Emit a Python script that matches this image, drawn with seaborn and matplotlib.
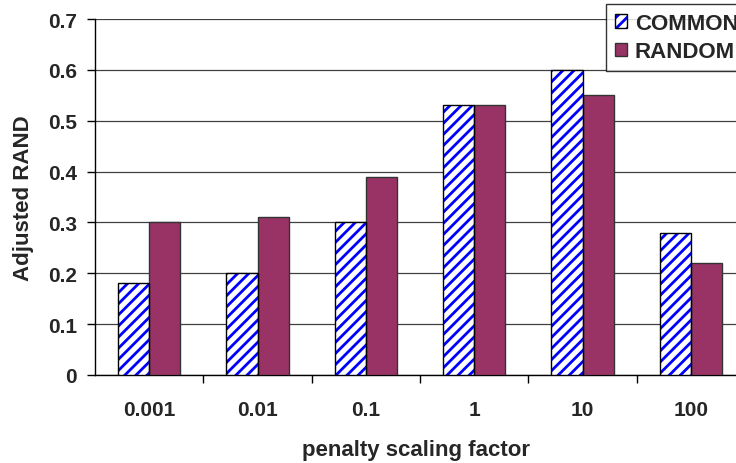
import matplotlib
matplotlib.use("Agg")
import matplotlib.pyplot as plt
from matplotlib.patches import Rectangle, Patch
from matplotlib.legend_handler import HandlerTuple
import seaborn as sns
import pandas as pd

categories = ["0.001", "0.01", "0.1", "1", "10", "100"]
common = [0.18, 0.20, 0.30, 0.53, 0.60, 0.28]
random_vals = [0.30, 0.31, 0.39, 0.53, 0.55, 0.22]
series = ["COMMON", "RANDOM"]
yticks = [0, 0.1, 0.2, 0.3, 0.4, 0.5, 0.6, 0.7]
ytick_labels = ["0", "0.1", "0.2", "0.3", "0.4", "0.5", "0.6", "0.7"]

df = pd.DataFrame({
    "factor": categories * 2,
    "value": common + random_vals,
    "series": [series[0]] * len(categories) + [series[1]] * len(categories),
})

sns.set_theme(style="white")
plt.rcParams["font.family"] = ["Liberation Sans", "DejaVu Sans"]
plt.rcParams["font.weight"] = "bold"
plt.rcParams["hatch.linewidth"] = 2.0

W, H = 736, 464
fig = plt.figure(figsize=(W / 100, H / 100), dpi=100)
ax = fig.add_axes([95 / W, (H - 376) / H, 650 / W, 356 / H])

plum = "#993366"
sns.barplot(data=df, x="factor", y="value", hue="series", order=categories,
            hue_order=series, palette=["white", plum], width=0.574,
            dodge=True, ax=ax, legend=False, saturation=1, zorder=3)

# hatched bars: blue stripes with a black outline
for p in ax.containers[0]:
    p.set_hatch("///")
    p.set_edgecolor("#0000ff")
    p.set_linewidth(0)
    ax.add_patch(Rectangle(p.get_xy(), p.get_width(), p.get_height(),
                           fill=False, edgecolor="black", linewidth=1.0, zorder=4))
for p in ax.containers[1]:
    p.set_edgecolor("#333333")
    p.set_linewidth(1.0)

ax.set_ylim(0, 0.7)
ax.set_xlim(-0.5, len(categories) - 0.5)
ax.set_yticks(yticks)
ax.set_yticklabels(ytick_labels, fontsize=15, fontweight="bold")
ax.yaxis.grid(True, color="#404040", linewidth=0.9, zorder=0)
ax.set_axisbelow(True)

ax.set_xticks(range(len(categories)))
ax.set_xticklabels(categories, fontsize=15, fontweight="bold")
ax.set_xticks([i + 0.5 for i in range(len(categories) - 1)], minor=True)
ax.tick_params(axis="x", which="major", length=0, pad=18)
ax.tick_params(axis="x", which="minor", length=5.5, width=1, color="black", bottom=True, direction="out")
ax.tick_params(axis="y", which="major", length=6, width=1, color="black", pad=7, left=True, direction="out")

for s in ["top", "right"]:
    ax.spines[s].set_visible(False)
for s in ["left", "bottom"]:
    ax.spines[s].set_color("black")
    ax.spines[s].set_linewidth(1.0)

ax.set_xlabel("penalty scaling factor", fontsize=16, fontweight="bold")
ax.xaxis.set_label_coords((416 - 95) / 650, -(440 - 376) / 356)
ax.set_ylabel("Adjusted RAND", fontsize=16, fontweight="bold")
ax.yaxis.set_label_coords(-(95 - 34) / 650, 0.5)

common_handle = (
    Patch(facecolor="white", edgecolor="#0000ff", hatch="///", linewidth=0),
    Patch(facecolor="none", edgecolor="black", linewidth=1.0),
)
random_handle = Patch(facecolor=plum, edgecolor="#333333", linewidth=1.0)
leg = fig.legend([common_handle, random_handle], series, loc="upper left",
                 bbox_to_anchor=(606 / W, 1 - 5 / H), frameon=True,
                 fancybox=False, prop={"weight": "bold", "size": 16},
                 handler_map={tuple: HandlerTuple(ndivide=1, pad=0)},
                 handlelength=0.55, handleheight=0.55, handletextpad=0.35,
                 borderpad=0.4, labelspacing=0.33, borderaxespad=0)
leg.get_frame().set_edgecolor("black")
leg.get_frame().set_linewidth(1.0)

fig.savefig("out.png", dpi=100)
